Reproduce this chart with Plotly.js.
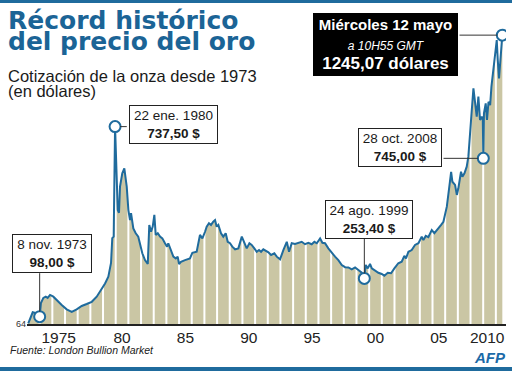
<!DOCTYPE html>
<html><head><meta charset="utf-8">
<script src="https://cdn.plot.ly/plotly-3.0.1.min.js"></script>
<style>html,body{margin:0;padding:0;background:#fff;}#chart{width:512px;height:371px;}</style>
</head><body><div id="chart"></div>
<script>
// ---- data (decimal year, USD per ounce) ----
const years = [1973.1,1973.45,1973.6,1973.85,1974.0,1974.1,1974.29,1974.48,1974.63,1974.82,
1975.08,1975.34,1975.74,1976.13,1976.53,1976.92,1977.32,1977.71,1978.11,1978.5,1978.84,
1979.16,1979.42,1979.63,1979.73,1979.84,1979.95,1980.08,1980.16,1980.26,1980.34,1980.52,1980.68,1980.87,
1981.0,1981.13,1981.21,1981.39,1981.58,1981.78,1981.92,1982.1,1982.31,1982.53,1982.65,1982.79,1982.92,
1983.05,1983.16,1983.32,1983.5,1983.68,1983.89,1984.05,1984.15,1984.37,1984.55,1984.74,1984.89,
1985.0,1985.15,1985.47,1985.86,1986.05,1986.39,1986.65,1986.84,1987.05,1987.18,1987.36,1987.52,1987.7,1987.84,1987.97,
1988.1,1988.31,1988.49,1988.68,1988.84,1989.02,1989.2,1989.42,1989.68,1989.95,
1990.15,1990.34,1990.55,1990.73,1990.94,1991.13,1991.31,1991.47,1991.65,1991.84,
1992.05,1992.26,1992.52,1992.71,1992.97,1993.23,1993.5,1993.68,1993.89,
1994.15,1994.41,1994.68,1994.94,1995.2,1995.47,1995.68,1995.87,1996.13,1996.31,1996.52,1996.78,
1997.05,1997.31,1997.57,1997.84,1998.1,1998.36,1998.63,1998.89,1999.15,1999.42,1999.62,1999.73,1999.89,
2000.07,2000.21,2000.47,2000.73,2000.99,2001.2,2001.47,2001.73,2001.99,2002.3,2002.57,2002.78,2002.91,
2003.1,2003.36,2003.62,2003.89,2004.15,2004.28,2004.47,2004.67,2004.94,2005.15,2005.42,2005.68,2005.86,
2006.13,2006.31,2006.47,2006.57,2006.78,2006.92,2007.04,2007.25,2007.36,2007.52,2007.7,2007.83,2007.96,
2008.1,2008.23,2008.36,2008.49,2008.62,2008.75,2008.89,2008.97,2009.01,2009.06,2009.2,2009.3,2009.42,2009.55,2009.65,2009.8,2009.94,
2010.07,2010.15,2010.25,2010.36,2010.51];
const prices = [67,112,110,106,94,150,171,176,171,183,
176,162,142,124,114,124,138,146,155,176,203,
230,258,314,416,422,873,695,531,520,627,682,702,627,
531,490,518,456,436,422,395,354,326,310,470,442,463,
511,429,436,422,415,395,381,395,367,340,333,340,
310,319,326,333,356,360,429,415,442,463,477,470,483,490,463,
470,436,422,436,401,395,381,370,374,422,
395,374,395,388,374,360,367,360,370,364,
358,347,354,340,329,367,401,360,395,
392,395,401,391,397,391,401,395,415,397,395,374,
354,340,326,306,297,296,288,296,285,274,251,306,292,
310,292,282,274,269,262,274,272,292,313,319,343,333,
360,367,388,395,422,408,425,420,449,436,456,470,483,
545,620,688,647,634,593,620,688,668,682,709,750,859,
941,1030,982,914,996,900,914,900,743,927,968,900,975,961,1037,1105,1187,
1228,1146,1071,1146,1248];

// annotated records
const recordYears  = [1974.0, 1979.95, 1999.62, 2009.01, 2010.51];
const recordPrices = [94, 873, 251, 743, 1248];
const recordDates  = ['8 nov. 1973', '22 ene. 1980', '24 ago. 1999', '28 oct. 2008', 'Miércoles 12 mayo'];
const recordTexts  = ['98,00 $', '737,50 $', '253,40 $', '745,00 $', '1245,07 dólares'];
const lastTime = 'a 10H55 GMT';

// axis labels
const tickYears  = [1975.5, 1980.5, 1985.5, 1990.5, 1995.5, 2000.5, 2005.5];
const tickLabels = ['1975', '80', '85', '90', '95', '00', '05'];
const lastTickLabel = '2010';
const stripeYears = [];
for (let y = 1974; y <= 2010; y++) stripeYears.push(y);

const Y_MIN = 64, Y_MAX = 1310;
const BLUE = '#1f6b9d';

// stripes (white year separators) between fill and line
const sx = [], sy = [];
stripeYears.forEach(y => { sx.push(y, y, null); sy.push(Y_MIN, Y_MAX, null); });

const traces = [
  {x: years, y: prices, type: 'scatter', mode: 'lines', fill: 'tozeroy',
   fillcolor: '#cac6a4', line: {width: 0, color: '#cac6a4'}, hoverinfo: 'skip'},
  {x: sx, y: sy, type: 'scatter', mode: 'lines', line: {width: 2, color: '#ffffff'}, hoverinfo: 'skip'},
  {x: years, y: prices, type: 'scatter', mode: 'lines', line: {width: 2, color: BLUE}},
  {x: recordYears, y: recordPrices, type: 'scatter', mode: 'markers',
   marker: {size: 11, color: '#ffffff', line: {width: 2, color: BLUE}}}
];

// page pixel -> paper coordinates (plot area: left 27, bottom 324, 479 x 304)
const L = 27, B = 324, W = 479, H = 304;
const px = p => (p - L) / W;
const py = p => (B - p) / H;

function txt(text, x, y, font, xanchor) {
  return {text, xref: 'paper', yref: 'paper', x: px(x), y: py(y), xanchor: xanchor || 'left',
          yanchor: 'middle', showarrow: false, font, borderpad: 0, align: 'left'};
}
const SANS = 'Liberation Sans, Arial, sans-serif';
const NARROW = 'Liberation Sans Narrow, Arial Narrow, Liberation Sans, sans-serif';
function box(i, cx, cy, w, dark) {
  let text;
  if (dark) {
    text = '<b>' + recordDates[i] + '</b><br><i><span style="font-size:12px">' + lastTime +
           '</span></i><br><b><span style="font-size:17px">' + recordTexts[i] + '</span></b>';
  } else {
    text = recordDates[i] + '<br><b>' + recordTexts[i] + '</b>';
  }
  return {text, xref: 'paper', yref: 'paper', x: px(cx), y: py(cy), xanchor: 'center', yanchor: 'middle',
          showarrow: false, width: w, align: 'center', borderpad: 2, borderwidth: 1,
          bordercolor: dark ? '#000' : '#222', bgcolor: dark ? '#000' : '#fff',
          font: {family: SANS, size: dark ? 15 : 13.5, color: dark ? '#fff' : '#1a1a1a'}};
}
function connector(i, ax, ay) {
  return {text: '', x: recordYears[i], y: recordPrices[i], xref: 'x', yref: 'y',
          showarrow: true, arrowhead: 0, arrowwidth: 1, arrowcolor: '#333', ax, ay, standoff: 5};
}

// two-line texts: small base size sets the tight line spacing, spans set the glyph size
const titleText = '<b><span style="font-size:25px">Récord histórico</span></b><br>' +
                  '<b><span style="font-size:25px">del precio del oro</span></b>';
const subText = '<span style="font-size:16.5px">Cotización de la onza desde 1973</span><br>' +
                '<span style="font-size:16.5px">(en dólares)</span>';

const annotations = [
  txt(titleText, 7, 31.3, {family: 'DejaVu Sans, sans-serif', size: 16.5, color: '#1b6496'}),
  txt(subText, 7, 83.5, {family: SANS, size: 11.5, color: '#1a1a1a'}),
  txt('<i>Fuente: London Bullion Market</i>', 9, 349.5, {family: SANS, size: 10.5, color: '#222'}),
  txt('<b><i>AFP</i></b>', 507, 357.5, {family: SANS, size: 15, color: '#1b6aa8'}, 'right'),
  txt(lastTickLabel, 506, 337, {family: NARROW, size: 15.5, color: '#222'}, 'right'),
  connector(0, 0, -45),
  connector(1, 13.2, 0),
  connector(2, 0, -41.4),
  connector(3, -41.3, 0),
  connector(4, -44.3, 0),
  box(0, 52.2, 253.3, 74),
  box(1, 173, 124.2, 83),
  box(2, 369, 219.3, 82),
  box(3, 400, 147.8, 78),
  box(4, 385.5, 44, 139, true)
];

const layout = {
  width: 512, height: 371,
  margin: {l: L, r: 512 - L - W, t: B - H, b: 371 - B},
  paper_bgcolor: '#fff', plot_bgcolor: '#fff', showlegend: false,
  xaxis: {range: [1973, 1973 + 37.8], showgrid: false, zeroline: false, showline: true,
          linecolor: '#222', linewidth: 2, ticks: '', tickvals: tickYears, ticktext: tickLabels,
          ticklabelstandoff: -2,
          tickfont: {family: NARROW, size: 15.5, color: '#222'},
          fixedrange: true},
  yaxis: {range: [Y_MIN, Y_MAX], showgrid: false, zeroline: false, showline: false, ticks: '',
          tickvals: [Y_MIN], ticktext: [String(Y_MIN)], tickfont: {family: SANS, size: 9, color: '#333'},
          fixedrange: true},
  shapes: [
    {type: 'rect', xref: 'paper', yref: 'paper', xsizemode: 'pixel', ysizemode: 'pixel',
     xanchor: 0, yanchor: 1, x0: -L, x1: W + 10, y0: B - H - 3, y1: B - H, line: {width: 0}, fillcolor: BLUE},
    {type: 'rect', xref: 'paper', yref: 'paper', xsizemode: 'pixel', ysizemode: 'pixel',
     xanchor: 0, yanchor: 0, x0: -L, x1: W + 10, y0: -47, y1: -43, line: {width: 0}, fillcolor: BLUE}
  ],
  annotations
};

Plotly.newPlot('chart', traces, layout, {displayModeBar: false, staticPlot: true});
</script></body></html>
